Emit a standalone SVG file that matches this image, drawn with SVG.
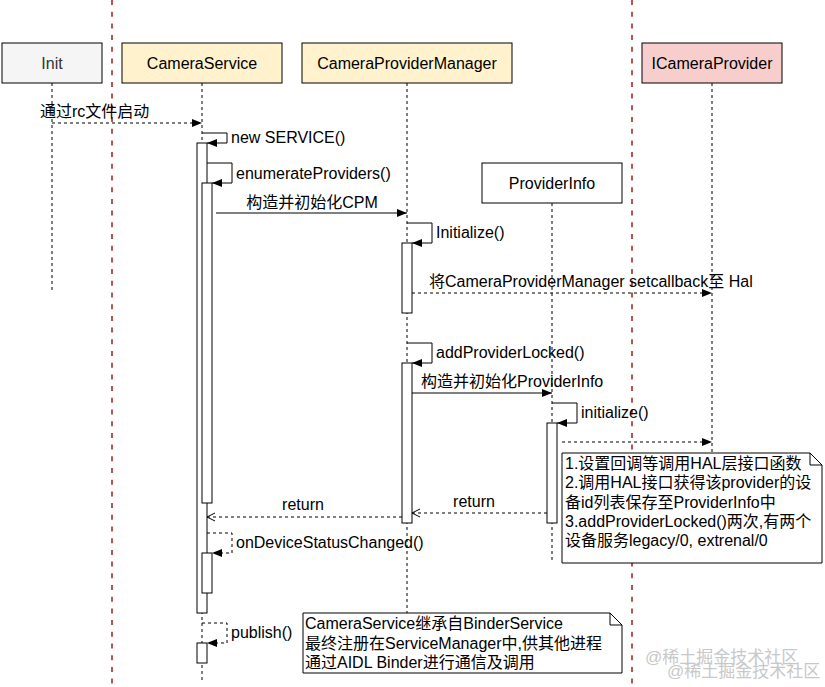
<svg xmlns="http://www.w3.org/2000/svg" width="825" height="687" viewBox="0 0 825 687">
<defs>
<style>
text{font-family:"Liberation Sans","Noto Sans CJK SC",sans-serif;font-size:16px;fill:#000}
.c{text-anchor:middle}
.box{stroke:#000;stroke-width:1}
.life{stroke:#000;stroke-width:1;stroke-dasharray:3 3;fill:none}
.bar{fill:#fff;stroke:#000;stroke-width:1}
.msg{stroke:#000;stroke-width:1;fill:none}
.dash{stroke-dasharray:3 3}
.sep{stroke:#b85450;stroke-width:2;stroke-dasharray:5 6.7}
.note{fill:#fff;stroke:#000;stroke-width:1}
.wm{fill:#c8c8c8;font-size:17px}
</style>
<marker id="blk" markerUnits="userSpaceOnUse" markerWidth="11" markerHeight="9" refX="10" refY="4.5" orient="auto">
<path d="M0,0.5 L10,4.5 L0,8.5 z" fill="#000"/>
</marker>
<marker id="opn" markerUnits="userSpaceOnUse" markerWidth="10" markerHeight="10" refX="9" refY="5" orient="auto">
<path d="M1,1 L9,5 L1,9" fill="none" stroke="#000" stroke-width="1"/>
</marker>
</defs>
<rect width="825" height="687" fill="#fff"/>
<g id="separators">
<line class="sep" x1="112" y1="0" x2="112" y2="687"/>
<line class="sep" x1="632" y1="0" x2="632" y2="687"/>
</g>
<g id="lifelines">
<line class="life" x1="52" y1="83" x2="52" y2="290"/>
<line class="life" x1="202" y1="83" x2="202" y2="680"/>
<line class="life" x1="407" y1="83" x2="407" y2="613"/>
<line class="life" x1="552" y1="203" x2="552" y2="560"/>
<line class="life" x1="712" y1="83" x2="712" y2="455"/>
</g>
<g id="init"><rect class="box" x="2" y="43" width="100" height="40" fill="#f5f5f5" stroke="#666"/><text class="c" x="52" y="69" style="fill:#333">Init</text></g>
<g id="cameraservice"><rect class="box" x="122" y="43" width="160" height="40" fill="#fff2cc"/><text class="c" x="202" y="69">CameraService</text></g>
<g id="cpm"><rect class="box" x="302" y="43" width="210" height="40" fill="#fff2cc"/><text class="c" x="407" y="69">CameraProviderManager</text></g>
<g id="icameraprovider"><rect class="box" x="642" y="43" width="140" height="40" fill="#f8cecc"/><text class="c" x="712" y="69">ICameraProvider</text></g>
<g id="providerinfo"><rect class="box" x="482" y="163" width="140" height="40" fill="#fff"/><text class="c" x="552" y="189">ProviderInfo</text></g>
<g id="activations">
<rect class="bar" x="197" y="143" width="10" height="470"/>
<rect class="bar" x="202" y="183" width="10" height="320"/>
<rect class="bar" x="202" y="553" width="10" height="40"/>
<rect class="bar" x="197" y="643" width="10" height="20"/>
<rect class="bar" x="402" y="243" width="10" height="70"/>
<rect class="bar" x="402" y="363" width="10" height="160"/>
<rect class="bar" x="547" y="423" width="10" height="100"/>
</g>
<g id="connectors">
<line class="msg dash" x1="52" y1="123" x2="202" y2="123" marker-end="url(#blk)"/>
<polyline class="msg" points="202,133 227,133 227,143 207,143" marker-end="url(#blk)"/>
<polyline class="msg" points="207,163 232,163 232,183 212,183" marker-end="url(#blk)"/>
<line class="msg" x1="216" y1="213" x2="407" y2="213" marker-end="url(#blk)"/>
<polyline class="msg" points="407,223 432,223 432,243 412,243" marker-end="url(#blk)"/>
<line class="msg dash" x1="412" y1="293" x2="712" y2="293" marker-end="url(#blk)"/>
<polyline class="msg" points="407,343 432,343 432,363 412,363" marker-end="url(#blk)"/>
<line class="msg" x1="412" y1="393" x2="552" y2="393" marker-end="url(#blk)"/>
<polyline class="msg" points="552,403 577,403 577,423 557,423" marker-end="url(#blk)"/>
<line class="msg dash" x1="562" y1="442" x2="712" y2="442" marker-end="url(#blk)"/>
<line class="msg dash" x1="547" y1="513" x2="412" y2="513" marker-end="url(#opn)"/>
<line class="msg dash" x1="402" y1="517" x2="207" y2="517" marker-end="url(#opn)"/>
<polyline class="msg dash" points="207,533 232,533 232,553 212,553" marker-end="url(#blk)"/>
<polyline class="msg dash" points="202,623 227,623 227,643 207,643" marker-end="url(#blk)"/>
</g>
<g id="labels">
<text x="40" y="117">通过rc文件启动</text>
<text x="231" y="143">new SERVICE()</text>
<text x="236" y="179">enumerateProviders()</text>
<text class="c" x="312" y="208">构造并初始化CPM</text>
<text x="436" y="238">Initialize()</text>
<text x="429" y="287">将CameraProviderManager setcallback至 Hal</text>
<text x="436" y="358">addProviderLocked()</text>
<text x="421" y="387">构造并初始化ProviderInfo</text>
<text x="581" y="418">initialize()</text>
<text class="c" x="474" y="507">return</text>
<text class="c" x="303" y="510">return</text>
<text x="236" y="548">onDeviceStatusChanged()</text>
<text x="231" y="638">publish()</text>
</g>
<g id="note1">
<path class="note" d="M562,453 H810 L822,465 V563 H562 Z"/>
<path d="M810,453 V465 H822" fill="none" stroke="#000"/>
<text x="565" y="469">1.设置回调等调用HAL层接口函数</text>
<text x="565" y="488">2.调用HAL接口获得该provider的设</text>
<text x="565" y="508">备id列表保存至ProviderInfo中</text>
<text x="565" y="527">3.addProviderLocked()两次,有两个</text>
<text x="565" y="546">设备服务legacy/0, extrenal/0</text>
</g>
<g id="note2">
<path class="note" d="M303,613 H610 L622,625 V673 H303 Z"/>
<path d="M610,613 V625 H622" fill="none" stroke="#000"/>
<text x="305" y="629">CameraService继承自BinderService</text>
<text x="305" y="649">最终注册在ServiceManager中,供其他进程</text>
<text x="305" y="668">通过AIDL Binder进行通信及调用</text>
</g>
<g id="watermark">
<text class="wm" x="645" y="663">@稀土掘金技术社区</text>
<text class="wm" x="667" y="677">@稀土掘金技术社区</text>
</g>
</svg>
